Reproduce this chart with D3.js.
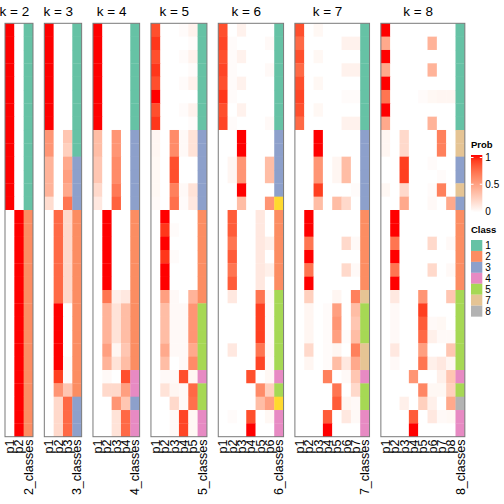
<!DOCTYPE html>
<html><head><meta charset="utf-8">
<script src="https://cdn.jsdelivr.net/npm/d3@7"></script>
<style>body{margin:0;background:#fff}svg{display:block;font-family:"Liberation Sans",Arial,sans-serif}</style>
</head><body><svg id="c" width="504" height="504"></svg>
<script>
const kValues = [2,3,4,5,6,7,8];
const classColors = {1:"#66C2A5",2:"#FC8D62",3:"#8DA0CB",4:"#E78AC3",5:"#A6D854",6:"#FFD92F",7:"#E5C494",8:"#B3B3B3"};
const legendClasses = [1,2,3,4,5,7,8];
const probTicks = [0,0.5,1];

const rep = (row, n) => Array.from({length:n}, () => row.slice());

const probK2 = [...rep([1,0],14), ...rep([0,1],17)];
const classK2 = [...Array(14).fill(1), ...Array(17).fill(2)];

const probK3 = [
 ...rep([1,0,0],8),
 [0.55,0,0.3],[0.55,0,0.25],
 [0.4,0,0.45],[0.4,0,0.5],[0.4,0,0.45],[0.18,0,0.7],
 ...rep([0,0.75,0.2],7),
 [0,1,0],[0,1,0],[0,1,0],[0,1,0],[0,1,0.02],
 [0,0.9,0.02],[0,0.55,0.3],
 [0,0.2,0.75],[0,0.2,0.75],[0,0.2,0.75]
];
const classK3 = [1,1,1,1,1,1,1,1,1,1,3,3,3,3,2,2,2,2,2,2,2,2,2,2,2,2,2,2,3,3,3];

const probK4 = [
 ...rep([1,0,0,0],8),
 [0.35,0,0.55,0],[0.35,0,0.55,0],[0.3,0,0.6,0],[0.3,0,0.6,0],[0.2,0,0.68,0],[0.12,0,0.78,0],
 ...rep([0,1,0,0],6),
 [0,0.7,0.08,0.12],
 [0,0.4,0.15,0.35],[0,0.4,0.15,0.35],[0,0.4,0.15,0.35],
 [0,0.5,0.05,0.3],[0,0.4,0.15,0.35],
 [0,0.03,0,0.85],[0,0.2,0.2,0.5],[0,0,0.55,0.3],
 [0,0,0.15,0.75],[0,0,0.15,0.75]
];
const classK4 = [1,1,1,1,1,1,1,1,3,3,3,3,3,3,2,2,2,2,2,2,2,2,2,2,2,2,4,4,3,4,4];

const probK5 = [
 [0.85,0,0,0.02,0.07],[0.92,0,0,0,0.02],[0.85,0,0,0.02,0.07],[0.92,0,0,0,0.02],
 [0.85,0,0,0.02,0.07],[1,0,0,0,0],[0.85,0,0,0.02,0.07],[0.92,0,0,0,0.02],
 [0.05,0,0.6,0.03,0.15],[0.05,0,0.6,0.03,0.15],[0.04,0,0.85,0,0],[0.04,0,0.85,0,0],
 [0.04,0,0.65,0.03,0.15],[0.03,0,0.72,0.02,0.12],
 [0,1,0,0,0],[0,0.92,0.02,0,0],[0,1,0,0,0],[0,0.92,0.02,0,0],[0,1,0,0,0],[0,1,0,0,0],
 [0,0.5,0.03,0,0.4],
 [0,0.35,0.03,0.03,0.55],[0,0.35,0.03,0.03,0.55],[0,0.35,0.03,0.03,0.55],
 [0,0.45,0.03,0.03,0.45],[0,0.35,0,0.03,0.6],
 [0,0.03,0.03,0.85,0.05],[0,0.15,0.05,0.03,0.75],[0,0,0.2,0.03,0.72],
 [0,0,0.03,0.88,0.04],[0,0,0.03,0.88,0.04]
];
const classK5 = [1,1,1,1,1,1,1,1,3,3,3,3,3,3,2,2,2,2,2,2,2,5,5,5,5,5,4,5,5,4,4];

const probK6 = [
 [0.85,0,0.07,0,0,0],[0.88,0.02,0,0,0,0.03],[0.85,0.02,0.07,0,0,0],[0.88,0.02,0,0,0,0.03],
 [0.85,0.02,0.07,0,0,0],[0.92,0.02,0,0,0,0],[0.85,0,0.07,0,0,0],[0.88,0.02,0,0,0,0.03],
 [0,0,1,0,0,0],[0,0,1,0,0,0],[0,0.05,0.55,0,0,0.35],[0,0.05,0.55,0,0,0.35],[0,0,1,0,0,0],
 [0,0,0.35,0,0,0.55],
 [0,0.8,0,0,0.12,0],[0,0.8,0,0,0.12,0],[0,0.7,0,0,0.12,0.08],[0,0.8,0,0,0.12,0],
 [0,0.7,0,0,0.12,0.08],[0,0.8,0,0,0.12,0],
 [0,0.12,0,0,0.7,0.04],[0,0,0,0,0.9,0.03],[0,0,0,0,0.9,0.03],[0,0,0,0,0.9,0.03],
 [0,0.12,0,0,0.7,0.04],[0,0,0,0,0.88,0.03],
 [0,0,0,0.85,0,0.04],[0,0,0,0,0.6,0.25],[0,0,0,0,0.35,0.5],
 [0,0.02,0,0.85,0,0.04],[0,0,0,1,0,0]
];
const classK6 = [1,1,1,1,1,1,1,1,3,3,3,3,3,6,2,2,2,2,2,2,5,5,5,5,5,5,4,5,6,4,4];

const probK7 = [
 [0.85,0,0.04,0,0,0,0],[0.75,0,0,0,0,0.07,0.07],[0.85,0,0.04,0,0,0,0],[0.75,0,0,0,0,0.07,0.07],
 [0.85,0,0.04,0,0,0,0],[0.88,0,0,0,0,0.02,0.02],[0.85,0,0.04,0,0,0,0],[0.75,0,0,0,0,0.07,0.07],
 [0,0,1,0,0,0,0],[0,0,1,0,0,0,0],[0,0,0.55,0,0.05,0.35,0],[0,0,0.55,0,0.05,0.35,0],
 [0,0,0.9,0,0,0,0.02],[0,0,0.35,0,0.35,0.2,0],
 [0,1,0,0,0,0,0],[0,1,0,0,0,0,0],[0,0.7,0,0,0,0.2,0.03],[0,1,0,0,0,0,0],
 [0,0.7,0,0,0,0.2,0.03],[0,1,0,0,0,0,0],
 [0,0.25,0,0,0.05,0,0.65],
 [0,0.05,0,0.02,0.5,0,0.35],[0,0.05,0,0.02,0.55,0,0.3],[0,0.05,0,0.02,0.5,0.02,0.35],
 [0,0.2,0,0.02,0.05,0,0.65],[0,0.05,0,0.02,0.35,0.12,0.45],
 [0,0,0,0.65,0,0.03,0.3],[0,0,0,0,0.7,0,0.2],[0,0,0,0,0.8,0.05,0.03],
 [0,0,0,0.8,0,0.12,0.03],[0,0,0,1,0,0,0]
];
const classK7 = [1,1,1,1,1,1,1,1,3,3,3,3,3,3,2,2,2,2,2,2,7,5,5,5,7,7,4,5,5,4,4];

const probK8 = [
 [1,0,0,0,0,0,0,0],[0.45,0,0,0,0,0.4,0,0],[1,0,0,0,0,0,0,0],[0.45,0,0,0,0,0.4,0,0],
 [1,0,0,0,0,0,0,0],[0.7,0,0,0,0.02,0.04,0.05,0.05],[1,0,0,0,0,0,0,0],[0.45,0,0,0,0,0.4,0,0],
 [0.05,0,0.2,0,0,0,0.65,0],[0.05,0,0.2,0,0,0,0.65,0],
 [0,0,0.9,0,0,0.02,0,0],[0,0,0.9,0,0,0,0.02,0],
 [0.04,0,0.2,0,0,0.02,0.65,0],[0,0,0.45,0,0,0.03,0,0.45],
 [0,1,0,0,0,0,0,0],[0,1,0,0,0,0,0,0],[0,0.7,0,0,0,0.2,0,0.03],[0,1,0,0,0,0,0,0],
 [0,0.7,0,0,0,0.2,0,0.03],[0,1,0,0,0,0,0,0],
 [0,0.12,0,0,0.55,0,0,0.3],[0,0.03,0,0,0.9,0,0,0],[0,0.03,0,0,0.8,0.03,0.04,0],
 [0,0.03,0,0,0.75,0.08,0.03,0.03],[0,0.12,0,0,0.5,0,0,0.3],[0,0.03,0,0,0.7,0.08,0.12,0.05],
 [0,0,0,0.55,0,0,0.08,0.3],[0,0,0,0,0.62,0.04,0.04,0.25],[0,0,0.08,0,0.25,0.08,0,0.45],
 [0,0,0,0.8,0,0.12,0.03,0.04],[0,0,0,1,0,0,0,0]
];
const classK8 = [1,1,1,1,1,1,1,1,7,7,3,3,7,3,2,2,2,2,2,2,5,5,5,5,5,5,4,5,8,4,4];

const probs = [probK2,probK3,probK4,probK5,probK6,probK7,probK8];
const classes = [classK2,classK3,classK4,classK5,classK6,classK7,classK8];

// ---- layout ----
const svg = d3.select("#c");
const nRows = probK2.length;
const colW = 9.33, gap = 11.33, leftX = 5, topY = 23.3, bottomY = 436.7;
const y = d3.scaleBand().domain(d3.range(nRows)).range([topY, bottomY]);
const color = d3.scaleLinear().domain([0,1]).range(["#ffffff","#ff0000"]).interpolate(d3.interpolateLab);
const borderCol = "#7a7a7a";

let x0 = leftX;
kValues.forEach((k, i) => {
  const cols = d3.range(k).map(j => "p" + (j+1)).concat([k + "_classes"]);
  const x = d3.scaleBand().domain(cols).range([x0, x0 + cols.length * colW]);
  const g = svg.append("g");
  const P = probs[i], C = classes[i];
  P.forEach((row, r) => {
    g.selectAll(null).data(row).enter().append("rect")
      .attr("x", (d, j) => x(cols[j])).attr("y", y(r))
      .attr("width", x.bandwidth() + 0.3).attr("height", y.bandwidth() + 0.3)
      .attr("fill", d => color(d));
  });
  g.selectAll(null).data(C).enter().append("rect")
    .attr("x", x(cols[k])).attr("y", (d, r) => y(r))
    .attr("width", x.bandwidth()).attr("height", y.bandwidth() + 0.3)
    .attr("fill", d => classColors[d]);
  g.append("rect").attr("x", x.range()[0]).attr("y", topY)
    .attr("width", x.range()[1] - x.range()[0]).attr("height", bottomY - topY)
    .attr("fill", "none").attr("stroke", borderCol).attr("stroke-width", 1);
  const tx = (x(cols[0]) + x(cols[k-1]) + x.bandwidth()) / 2;
  svg.append("text").attr("x", tx).attr("y", 15.5).attr("text-anchor", "middle")
    .attr("font-size", "13.5px").attr("fill", "#000").text("k = " + k);
  cols.forEach(c => {
    const cx = x(c) + x.bandwidth() / 2;
    svg.append("text").attr("transform", `translate(${cx},439.5) rotate(-90)`)
      .attr("text-anchor", "end").attr("dy", "0.36em")
      .attr("font-size", "12.5px").attr("fill", "#000").text(c);
  });
  x0 += cols.length * colW + gap;
});

// ---- legends ----
const lx = 471, sw = 11.3;
svg.append("text").attr("x", lx).attr("y", 148).attr("font-size", "9.5px")
  .attr("font-weight", "bold").text("Prob");
const defs = svg.append("defs");
const grad = defs.append("linearGradient").attr("id", "pg").attr("x1", 0).attr("x2", 0).attr("y1", 1).attr("y2", 0);
d3.range(0, 1.01, 0.1).forEach(t => grad.append("stop").attr("offset", t).attr("stop-color", color(t)));
const gy = d3.scaleLinear().domain([0,1]).range([211, 157.5]);
svg.append("rect").attr("x", lx).attr("y", gy(1) - 2.5).attr("width", sw).attr("height", gy(0) - gy(1) + 4)
  .attr("fill", "url(#pg)");
probTicks.forEach(t => {
  svg.append("line").attr("x1", lx).attr("x2", lx + 2.5).attr("y1", gy(t)).attr("y2", gy(t)).attr("stroke", "#fff");
  svg.append("line").attr("x1", lx + sw - 2.5).attr("x2", lx + sw).attr("y1", gy(t)).attr("y2", gy(t)).attr("stroke", "#fff");
  svg.append("text").attr("x", lx + sw + 3).attr("y", gy(t)).attr("dy", "0.36em")
    .attr("font-size", "10px").text(t === 0.5 ? "0.5" : String(t));
});
svg.append("text").attr("x", lx).attr("y", 233).attr("font-size", "9.5px")
  .attr("font-weight", "bold").text("Class");
const ly = d3.scaleBand().domain(legendClasses).range([240, 240 + legendClasses.length * 10.95]);
legendClasses.forEach(c => {
  svg.append("rect").attr("x", lx).attr("y", ly(c)).attr("width", sw).attr("height", ly.bandwidth())
    .attr("fill", classColors[c]);
  svg.append("text").attr("x", lx + sw + 3).attr("y", ly(c) + ly.bandwidth() / 2).attr("dy", "0.36em")
    .attr("font-size", "10px").text(c);
});
</script></body></html>
